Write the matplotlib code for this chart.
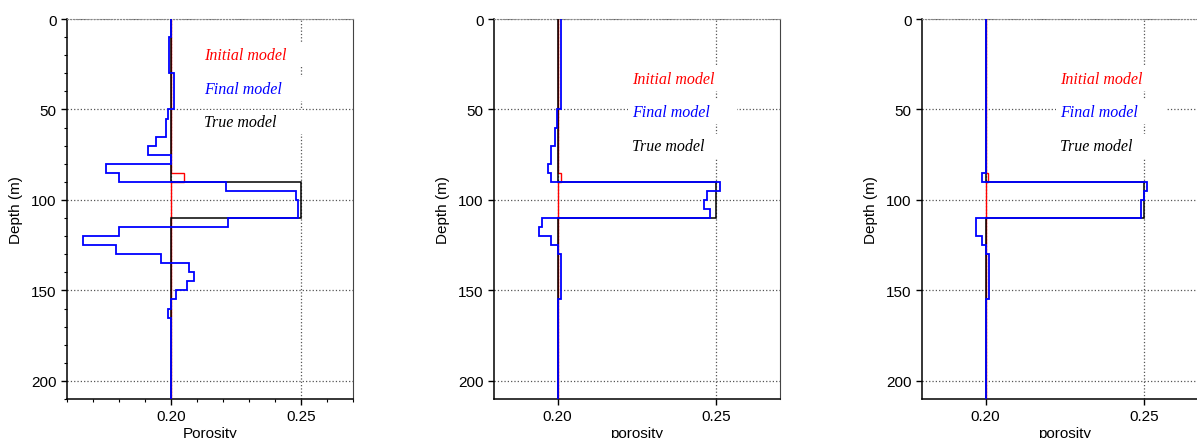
import numpy as np
import matplotlib
matplotlib.use("Agg")
import matplotlib.pyplot as plt
from matplotlib.ticker import MultipleLocator

# layer boundaries (m) and porosity per layer
edges_true = [0, 90, 110, 210]
por_true = [0.20, 0.25, 0.20]

edges_init = [0, 85, 90, 210]
por_init_1 = [0.20, 0.205, 0.20]
por_init_2 = [0.20, 0.201, 0.20]
por_init_3 = [0.20, 0.2009, 0.20]

edges_fin_1 = [0, 10, 30, 50, 55, 65, 70, 75, 80, 85, 90, 95, 100, 110, 115, 120,
               125, 130, 135, 140, 145, 150, 155, 160, 165, 210]
por_fin_1 = [0.200, 0.1991, 0.201, 0.199, 0.198, 0.1942, 0.191, 0.200, 0.175, 0.180,
             0.221, 0.248, 0.249, 0.222, 0.180, 0.166, 0.179, 0.196, 0.207, 0.209,
             0.206, 0.202, 0.200, 0.199, 0.200]

edges_fin_2 = [0, 50, 60, 70, 80, 85, 90, 95, 100, 105, 110, 115, 120, 125, 130, 155, 210]
por_fin_2 = [0.201, 0.1998, 0.1993, 0.198, 0.197, 0.198, 0.251, 0.247, 0.246, 0.248,
             0.1952, 0.1942, 0.198, 0.200, 0.201, 0.200]

edges_fin_3 = [0, 85, 90, 95, 100, 110, 120, 125, 130, 155, 210]
por_fin_3 = [0.200, 0.199, 0.2509, 0.250, 0.249, 0.197, 0.199, 0.200, 0.201, 0.200]

xlabels = ["Porosity", "porosity", "porosity"]
xlims = [(0.16, 0.27), (0.18, 0.27), (0.18, 0.27)]
text_x = [0.2127, 0.2233, 0.2234]
text_y = [[20, 38.5, 57], [33, 51.5, 70], [33, 51.5, 70]]
labels = ["Initial model", "Final model", "True model"]
label_colors = ["red", "blue", "black"]

panels = [
    (por_init_1, edges_fin_1, por_fin_1),
    (por_init_2, edges_fin_2, por_fin_2),
    (por_init_3, edges_fin_3, por_fin_3),
]

W, H = 1197, 439
fig = plt.figure(figsize=(W / 100, H / 100), dpi=100)
lefts = [67, 494, 922]

for i, (pinit, efin, pfin) in enumerate(panels):
    ax = fig.add_axes([lefts[i] / W, 1 - 400 / H, 286 / W, 380 / H])
    ax.stairs(pinit, edges_init, orientation="horizontal", baseline=None,
              color="red", lw=1.0, zorder=3)
    ax.stairs(por_true, edges_true, orientation="horizontal", baseline=None,
              color="black", lw=1.1, zorder=4)
    ax.stairs(pfin, efin, orientation="horizontal", baseline=None,
              color="blue", lw=1.3, zorder=5)

    ax.set_xlim(*xlims[i])
    ax.set_ylim(210, 0)
    ax.set_xticks([0.20, 0.25])
    ax.set_xticklabels(["0.20", "0.25"])
    ax.set_yticks([0, 50, 100, 150, 200])
    if i == 0:
        ax.xaxis.set_minor_locator(MultipleLocator(0.01))
        ax.yaxis.set_minor_locator(MultipleLocator(10))
    ax.tick_params(which="major", direction="out", length=4, width=1,
                   labelsize=11, top=False, right=False)
    ax.tick_params(which="minor", direction="out", length=2.5, width=0.8)
    ax.grid(True, which="major", linestyle=":", color="#555555", lw=0.9, zorder=1)
    ax.set_axisbelow(True)

    for s in ["left", "bottom"]:
        ax.spines[s].set_color("black")
        ax.spines[s].set_linewidth(1.1)
    ax.spines["top"].set_color("#888888")
    ax.spines["top"].set_linestyle(":")
    ax.spines["right"].set_color("#444444")

    ax.set_ylabel("Depth (m)", fontsize=11, fontfamily="Liberation Sans", labelpad=6)
    ax.set_xlabel(xlabels[i], fontsize=11, fontfamily="Liberation Sans", labelpad=2)
    for lab in ax.get_xticklabels() + ax.get_yticklabels():
        lab.set_fontfamily("Liberation Sans")

    for lbl, col, ty in zip(labels, label_colors, text_y[i]):
        ax.text(text_x[i], ty, lbl + "      ", color=col, fontsize=11.5,
                fontfamily="Liberation Serif", fontstyle="italic",
                ha="left", va="center", zorder=6,
                bbox=dict(boxstyle="square,pad=0.25", fc="white", ec="none"))

fig.savefig("out.png", dpi=100)
